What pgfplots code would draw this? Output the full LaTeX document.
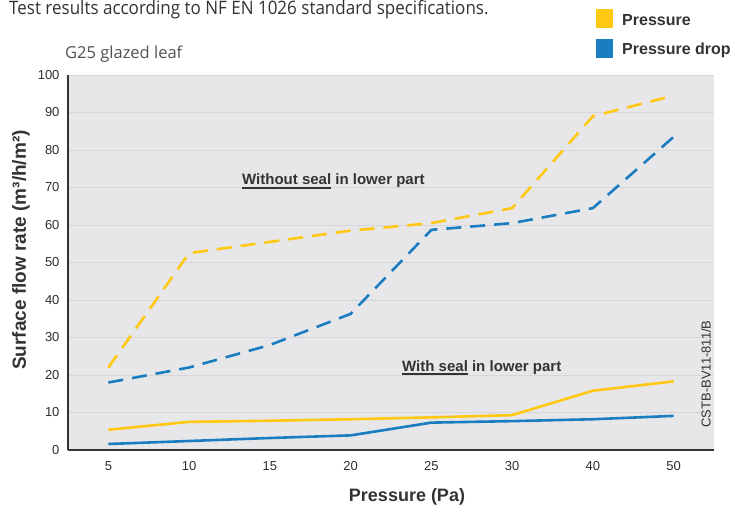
\documentclass[border=0pt]{standalone}
\usepackage{pgfplots}
\pgfplotsset{compat=1.18}
\usepackage{fontspec}
\setmainfont{Liberation Sans}
\newfontfamily\lightfont{Open Sans}
\definecolor{cyel}{HTML}{FFC812}
\definecolor{cblu}{HTML}{1A7DC0}
\definecolor{bggray}{HTML}{E7E7EA}
\definecolor{gridgray}{HTML}{D6D6DA}
\definecolor{txt}{HTML}{333333}
\newcommand\ul[1]{\leavevmode\setbox0\hbox{#1}\rlap{\rule[-4pt]{\wd0}{1.6pt}}\box0\relax}

\begin{document}
\begin{tikzpicture}[x=1pt,y=1pt]
\useasboundingbox (0,0) rectangle (735,512);
\begin{axis}[
  at={(68pt,62pt)}, anchor=south west,
  scale only axis, width=646pt, height=375pt,
  xmin=-0.5, xmax=7.5, ymin=0, ymax=100,
  xtick={0,...,7}, xticklabels={5,10,15,20,25,30,40,50},
  ytick={0,10,...,100},
  axis lines*=left,
  axis line style={-, line width=1.8pt, color=txt},
  axis background/.style={fill=bggray},
  ymajorgrids, grid style={gridgray, line width=0.8pt},
  major tick length=0pt,
  tick label style={font=\fontsize{13}{13}\selectfont, text=txt!90!black},
  /pgf/number format/assume math mode=true,
  xticklabel style={yshift=-8pt},
  yticklabel style={xshift=-5pt},
  every axis plot/.append style={line width=2.6pt, line join=round},
]
% without seal (dashed)
\addplot[cyel, dash pattern=on 15pt off 9pt] coordinates
  {(0,22) (1,52.5) (2,55.5) (3,58.5) (4,60.5) (5,64.5) (6,89) (7,94.5)};
\addplot[cblu, dash pattern=on 15pt off 9pt] coordinates
  {(0,18) (1,22) (2,28) (3,36.3) (4,58.7) (5,60.5) (6,64.5) (7,83.5)};
% with seal (solid)
\addplot[cyel] coordinates
  {(0,5.4) (1,7.5) (2,7.8) (3,8.2) (4,8.7) (5,9.3) (6,15.8) (7,18.3)};
\addplot[cblu] coordinates
  {(0,1.6) (1,2.4) (2,3.2) (3,3.9) (4,7.3) (5,7.7) (6,8.2) (7,9.1)};
\end{axis}

% titles
\node[anchor=base west, inner sep=0, text=txt, font=\lightfont\fontsize{18.5}{18.5}\selectfont, xscale=0.92] at (9,497)
  {Test results according to NF EN 1026 standard specifications.};
\node[anchor=base west, inner sep=0, text=txt!85, font=\lightfont\fontsize{16.5}{16.5}\selectfont] at (65,453) {G25 glazed leaf};

% legend
\fill[cyel] (596,484) rectangle (613,503);
\fill[cblu] (596,454) rectangle (613,473);
\node[anchor=west, inner sep=0, text=txt, font=\bfseries\fontsize{16}{16}\selectfont] at (622,492) {Pressure};
\node[anchor=west, inner sep=0, text=txt, font=\bfseries\fontsize{16}{16}\selectfont] at (622,462) {Pressure drop};

% axis labels
\node[rotate=90, text=txt, font=\bfseries\fontsize{19}{19}\selectfont] at (21,262) {Surface flow rate (m³/h/m²)};
\node[text=txt, font=\bfseries\fontsize{18}{18}\selectfont] at (407,15) {Pressure (Pa)};

% annotations
\node[anchor=base west, inner sep=0, text=txt, font=\bfseries\fontsize{15}{15}\selectfont] at (242,327) {\ul{Without seal} in lower part};
\node[anchor=base west, inner sep=0, text=txt, font=\bfseries\fontsize{15}{15}\selectfont] at (402,141) {\ul{With seal} in lower part};
\node[rotate=90, inner sep=0, text=txt, font=\fontsize{13}{13}\selectfont] at (706,138) {CSTB-BV11-811/B};
\end{tikzpicture}
\end{document}
